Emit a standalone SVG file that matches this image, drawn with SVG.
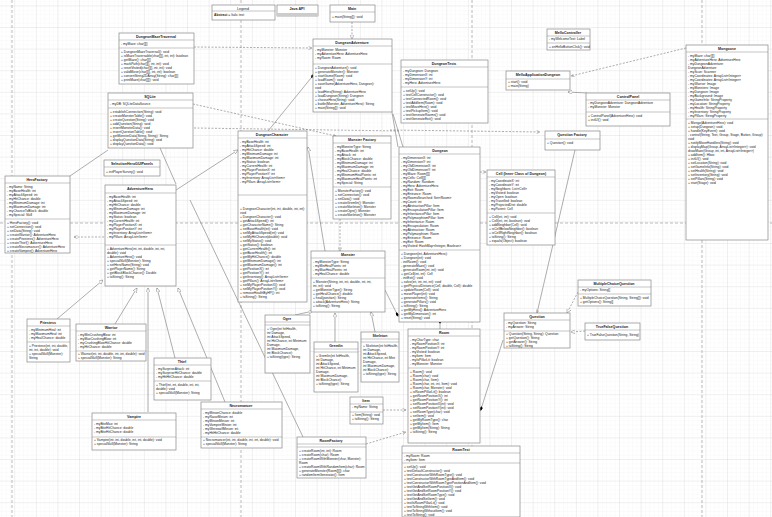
<svg xmlns="http://www.w3.org/2000/svg" width="772" height="517" viewBox="0 0 772 517">
<defs>
<pattern id="mi" width="4.32" height="4.32" patternUnits="userSpaceOnUse" x="15.2" y="6.4"><path d="M4.32 0V4.32H0" fill="none" stroke="#efefef" stroke-width="0.4"/></pattern>
<pattern id="ma" width="21.6" height="21.6" patternUnits="userSpaceOnUse" x="15.2" y="6.4"><path d="M21.6 0V21.6H0" fill="none" stroke="#d6d6d6" stroke-width="0.6"/></pattern>
<marker id="tri" viewBox="0 0 10 10" refX="10" refY="5" markerWidth="7" markerHeight="7" orient="auto"><path d="M0 0L10 5L0 10z" fill="#fff" stroke="#666"/></marker>
<marker id="open" viewBox="0 0 10 10" refX="10" refY="5" markerWidth="6" markerHeight="6" orient="auto"><path d="M0 0L10 5L0 10" fill="none" stroke="#666"/></marker>
<marker id="dia" viewBox="0 0 14 8" refX="0" refY="4" markerWidth="9" markerHeight="5" orient="auto-start-reverse"><path d="M0 4L7 0L14 4L7 8z" fill="#000"/></marker>
</defs>
<style>
.b{fill:#fff;stroke:#888;stroke-width:0.7}
.s{stroke:#888;stroke-width:0.5}
text{font-family:"Liberation Sans",Arial,sans-serif;font-size:3.3px;fill:#222}
.t{font-weight:bold;text-anchor:middle;font-size:3.6px}
.c{stroke:#777;stroke-width:0.6;fill:none}
.d{stroke:#777;stroke-width:0.6;fill:none;stroke-dasharray:2 1.5}
.pg{stroke:#aaa;stroke-width:0.8;stroke-dasharray:3 2}
</style>
<rect width="772" height="517" fill="#fff"/>
<rect width="772" height="517" fill="url(#mi)"/>
<rect width="772" height="517" fill="url(#ma)"/>
<g id="pages">
<line class="pg" x1="12" y1="0" x2="12" y2="517"/>
<line class="pg" x1="241" y1="0" x2="241" y2="517"/>
<line class="pg" x1="472" y1="0" x2="472" y2="517"/>
<line class="pg" x1="702" y1="0" x2="702" y2="517"/>
<line class="pg" x1="0" y1="223" x2="772" y2="223"/>
</g>
<g id="connectors">
<path class="d" d="M352 22V39" marker-end="url(#tri)"/>
<path class="d" d="M194 47L312 48" marker-end="url(#open)"/>
<path class="c" d="M268 131L311 78" marker-end="url(#dia)"/>
<path class="c" d="M398 147L386 78" marker-end="url(#dia)"/>
<path class="d" d="M193 104L336 136" marker-end="url(#open)"/>
<path class="d" d="M194 128L400 131"/>
<path class="d" d="M390 130L540 132" marker-end="url(#open)"/>
<path class="d" d="M686 48L571 76" marker-end="url(#open)"/>
<path class="c" d="M587 93L568 92" marker-end="url(#tri)"/>
<path class="c" d="M176 190L238 150" marker-end="url(#tri)"/>
<path class="c" d="M325 251L308 147" marker-end="url(#tri)"/>
<path class="d" d="M340 219V251" marker-end="url(#open)"/>
<path class="d" d="M104 237L74 237" marker-end="url(#open)"/>
<path class="c" d="M160 148L176 184"/>
<path class="c" d="M108 150L70 176"/>
<path class="c" d="M57 319L103 280" marker-end="url(#tri)"/>
<path class="c" d="M115 324L137 288" marker-end="url(#tri)"/>
<path class="c" d="M175 358L157 288" marker-end="url(#tri)"/>
<path class="c" d="M148 412V288" marker-end="url(#tri)"/>
<path class="c" d="M225 402L178 288" marker-end="url(#tri)"/>
<path class="c" d="M190 200L303 437"/>
<path class="c" d="M295 315L313 311" marker-end="url(#tri)"/>
<path class="c" d="M335 342V313" marker-end="url(#tri)"/>
<path class="c" d="M375 332L371 312" marker-end="url(#tri)"/>
<path class="c" d="M440 329V324" marker-end="url(#dia)"/>
<path class="d" d="M480 172L486 172" marker-end="url(#open)"/>
<path class="c" d="M385 290L396 312" marker-end="url(#dia)"/>
<path class="c" d="M503 340L482 406" marker-end="url(#dia)"/>
<path class="c" d="M575 150L537 313" marker-end="url(#open)"/>
<path class="d" d="M578 292L567 313" marker-end="url(#tri)"/>
<path class="d" d="M585 331L571 332" marker-end="url(#tri)"/>
<path class="d" d="M383 410L406 410" marker-end="url(#open)"/>
<path class="d" d="M366 444L406 432" marker-end="url(#open)"/>
<path class="c" d="M403 147L393 114"/>
</g>
<g id="legend"><rect class="b" x="212" y="5" width="63" height="15"/><text class="t" x="243" y="9.5" style="font-weight:normal">Legend</text><line class="s" x1="212" y1="11" x2="275" y2="11"/><text x="214" y="16"><tspan font-weight="bold">Abstract</tspan> = Italic text</text></g>
<g id="javaapi"><rect class="b" x="277" y="5" width="41" height="11"/><rect x="277" y="13" width="41" height="3" fill="#ccc"/><text class="t" x="297" y="10">Java API</text></g>
<g id="main"><rect class="b" x="330" y="5" width="45" height="17"/><text class="t" x="352" y="10">Main</text><line class="s" x1="330" y1="12" x2="375" y2="12"/><text x="332" y="18">+ main(String[]): void</text></g>
<g id="dungeonadventure"><rect class="b" x="313" y="39" width="79" height="73"/><text class="t" x="352" y="44">DungeonAdventure</text><line class="s" x1="313" y1="46" x2="392" y2="46"/>
<text x="315" y="51">- myMonster: Monster</text><text x="315" y="55">- myAdventureHero: AdventureHero</text><text x="315" y="59">- myRoom: Room</text><line class="s" x1="313" y1="64" x2="392" y2="64"/>
<text x="315" y="69">+ DungeonAdventure(): void</text><text x="315" y="73">+ generateMonster(): Monster</text><text x="315" y="77">+ startGame(Room): void</text><text x="315" y="81">+ loadRoom(): void</text><text x="315" y="85">+ saveGame(AdventureHero, Dungeon):</text><text x="315" y="89">void</text><text x="315" y="93">+ loadHero(String): AdventureHero</text><text x="315" y="97">+ loadDungeon(String): Dungeon</text><text x="315" y="101">+ chooseHero(String): void</text><text x="315" y="105">+ battle(Monster, AdventureHero): String</text><text x="315" y="109">+ main(String[]): void</text></g>
<g id="mazetraversal"><rect class="b" x="119" y="33" width="75" height="51"/><text class="t" x="156" y="38">DungeonMazeTraversal</text><line class="s" x1="119" y1="40" x2="194" y2="40"/><text x="121" y="45">- myMaze: char[][]</text><line class="s" x1="119" y1="48" x2="194" y2="48"/>
<text x="121" y="53">+ DungeonMazeTraversal(): void</text><text x="121" y="57">+ isMazeTraversable(char[][], int, int): boolean</text><text x="121" y="61">+ getMaze(): char[][]</text><text x="121" y="65">+ markPath(char[][], int, int): void</text><text x="121" y="69">+ resetVisited(char[][], int, int): void</text><text x="121" y="73">+ validMove(char[][], int, int): boolean</text><text x="121" y="77">+ convertString2DArray(String): char[][]</text><text x="121" y="81">+ printMaze(char[][]): void</text></g>
<g id="sqlite"><rect class="b" x="108" y="93" width="85" height="55"/><text class="t" x="150" y="98">SQLite</text><line class="s" x1="108" y1="100" x2="193" y2="100"/><text x="110" y="105">- myDB: SQLiteDataSource</text><line class="s" x1="108" y1="108" x2="193" y2="108"/>
<text x="110" y="113">+ establishConnection(String): void</text><text x="110" y="117">+ createMonsterTable(): void</text><text x="110" y="121">+ createQuestion(String): void</text><text x="110" y="125">+ addQuestion(String): void</text><text x="110" y="129">+ insertMonsterData(): void</text><text x="110" y="133">+ insertQuestionTable(): void</text><text x="110" y="137">+ getMonsterData(String, String): String</text><text x="110" y="141">+ displayQuestionData(String): void</text><text x="110" y="145">+ displayQuestionData(): void</text></g>
<g id="selectionhero"><rect class="b" x="104" y="160" width="56" height="16"/><text class="t" x="132" y="165">SelectionHeroGUIPanels</text><line class="s" x1="104" y1="167" x2="160" y2="167"/><text x="106" y="173">+ initPlayerSurvey(): void</text></g>
<g id="herofactory"><rect class="b" x="5" y="176" width="65" height="77"/><text class="t" x="37" y="181">HeroFactory</text><line class="s" x1="5" y1="183" x2="70" y2="183"/>
<text x="7" y="188">- myName: String</text><text x="7" y="192">- myBaseHealth: int</text><text x="7" y="196">- myAttackSpeed: int</text><text x="7" y="200">- myHitChance: double</text><text x="7" y="204">- myMinimumDamage: int</text><text x="7" y="208">- myMaximumDamage: int</text><text x="7" y="212">- myChanceToBlock: double</text><text x="7" y="216">- mySpecial: Skill</text><line class="s" x1="5" y1="219" x2="70" y2="219"/>
<text x="7" y="224">+ HeroFactory(): void</text><text x="7" y="228">+ setConnection(): void</text><text x="7" y="232">+ setData(String): void</text><text x="7" y="236">+ createWarrior(): AdventureHero</text><text x="7" y="240">+ createPriestess(): AdventureHero</text><text x="7" y="244">+ createThief(): AdventureHero</text><text x="7" y="248">+ createNecromancer(): AdventureHero</text><text x="7" y="252">+ createVampire(): AdventureHero</text></g>
<g id="adventurehero"><rect class="b" x="105" y="185" width="71" height="101"/><text class="t" x="140" y="190">AdventureHero</text><line class="s" x1="105" y1="193" x2="176" y2="193"/>
<text x="107" y="198">- myBaseHealth: int</text><text x="107" y="202">- myAttackSpeed: int</text><text x="107" y="206">- myHitChance: double</text><text x="107" y="210">- myMinimumDamage: int</text><text x="107" y="214">- myMaximumDamage: int</text><text x="107" y="218">- myStatus: boolean</text><text x="107" y="222">- myCurrentHealth: int</text><text x="107" y="226">- myPlayerPositionX: int</text><text x="107" y="230">- myPlayerPositionY: int</text><text x="107" y="234">- myInventory: ArrayList&lt;Item&gt;</text><text x="107" y="238">- myPillars: ArrayList&lt;Item&gt;</text><line class="s" x1="105" y1="245" x2="176" y2="245"/>
<text x="107" y="250">+ AdventureHero(int, int, double, int, int,</text><text x="107" y="254">double): void</text><text x="107" y="258">+ AdventureHero(): void</text><text x="107" y="262">+ specialSkill(Monster): String</text><text x="107" y="266">+ setHeroName(String): void</text><text x="107" y="270">+ getPlayerName(): String</text><text x="107" y="274">+ getBlockBlockChance(): Double</text><text x="107" y="278">+ toString(): String</text></g>
<g id="dungeoncharacter"><rect class="b" x="238" y="131" width="69" height="171"/><text class="t" x="272" y="136">DungeonCharacter</text><line class="s" x1="238" y1="138" x2="307" y2="138"/>
<text x="240" y="143">- myBaseHealth: int</text><text x="240" y="147">- myAttackSpeed: int</text><text x="240" y="151">- myHitChance: double</text><text x="240" y="155">- myMinimumDamage: int</text><text x="240" y="159">- myMaximumDamage: int</text><text x="240" y="163">- myStatus: boolean</text><text x="240" y="167">- myCurrentHealth: int</text><text x="240" y="171">- myPlayerPositionX: int</text><text x="240" y="175">- myPlayerPositionY: int</text><text x="240" y="179">- myInventory: ArrayList&lt;Item&gt;</text><text x="240" y="183">- myPillars: ArrayList&lt;Item&gt;</text><line class="s" x1="238" y1="195" x2="307" y2="195"/>
<text x="240" y="210">+ DungeonCharacter(int, int, double, int, int):</text><text x="240" y="214">void</text><text x="240" y="218">+ DungeonCharacter(): void</text><text x="240" y="222">+ getAttackSpeed(): int</text><text x="240" y="226">+ getCharacterName(): String</text><text x="240" y="230">+ setBaseHealth(int): void</text><text x="240" y="234">+ setMyAttackSpeed(int): void</text><text x="240" y="238">+ setMyHitChance(double): void</text><text x="240" y="242">+ setMyStatus(): void</text><text x="240" y="246">+ getStatus(): boolean</text><text x="240" y="250">+ getCurrentHealth(): int</text><text x="240" y="254">+ getBaseHealth(): int</text><text x="240" y="258">+ getMyHitChance(): double</text><text x="240" y="262">+ getMinimumDamage(): int</text><text x="240" y="266">+ getMaximumDamage(): int</text><text x="240" y="270">+ getPositionX(): int</text><text x="240" y="274">+ getPositionY(): int</text><text x="240" y="278">+ getInventory(): ArrayList&lt;Item&gt;</text><text x="240" y="282">+ getPillars(): ArrayList&lt;Item&gt;</text><text x="240" y="286">+ setMyPlayerPositionX(): void</text><text x="240" y="290">+ setMyPlayerPositionY(): void</text><text x="240" y="294">+ removeHealthByHP(): int</text><text x="240" y="298">+ toString(): String</text></g>
<g id="monsterfactory"><rect class="b" x="333" y="136" width="58" height="83"/><text class="t" x="362" y="141">Monster Factory</text><line class="s" x1="333" y1="143" x2="391" y2="143"/>
<text x="335" y="148">- myMonsterType: String</text><text x="335" y="152">- myBaseHealth: int</text><text x="335" y="156">- myAttack: int</text><text x="335" y="160">- myBlockChance: double</text><text x="335" y="164">- myMinimumDamage: int</text><text x="335" y="168">- myMaximumDamage: int</text><text x="335" y="172">- myHealChance: double</text><text x="335" y="176">- myMinimumHealPoints: int</text><text x="335" y="180">- myMaximumHealPoints: int</text><text x="335" y="184">- mySpecial: String</text><line class="s" x1="333" y1="187" x2="391" y2="187"/>
<text x="335" y="192">+ MonsterFactory(): void</text><text x="335" y="196">+ setConnection(): void</text><text x="335" y="200">+ setData(): void</text><text x="335" y="204">+ createGremlin(): Monster</text><text x="335" y="208">+ createSkeleton(): Monster</text><text x="335" y="212">+ createOgre(): Monster</text><text x="335" y="216">+ createSkeleton(): Monster</text></g>
<g id="dungeontests"><rect class="b" x="401" y="60" width="87" height="63"/><text class="t" x="444" y="65">DungeonTests</text><line class="s" x1="401" y1="67" x2="488" y2="67"/>
<text x="403" y="72">- myDungeon: Dungeon</text><text x="403" y="76">- myDimensionX: int</text><text x="403" y="80">- myDimensionY: int</text><text x="403" y="84">- myHero: AdventureHero</text><line class="s" x1="401" y1="87" x2="488" y2="87"/>
<text x="403" y="92">+ setUp(): void</text><text x="403" y="96">+ testCellConstructor(): void</text><text x="403" y="100">+ testConnectedRoom(): void</text><text x="403" y="104">+ testAddItem(Room): void</text><text x="403" y="108">+ testMoveHero(): void</text><text x="403" y="112">+ testPickupItem(): void</text><text x="403" y="116">+ testGenerateRooms(): void</text><text x="403" y="120">+ testGenerateExit(): void</text></g>
<g id="dungeon"><rect class="b" x="399" y="147" width="81" height="175"/><text class="t" x="440" y="152">Dungeon</text><line class="s" x1="399" y1="154" x2="480" y2="154"/>
<text x="401" y="159">- myDimensionX: int</text><text x="401" y="163">- myDimensionY: int</text><text x="401" y="167">- myOldDimensionX: int</text><text x="401" y="171">- myOldDimensionY: int</text><text x="401" y="175">- myMaze: Room[][]</text><text x="401" y="179">- myCells: Cell[][]</text><text x="401" y="183">- myRandom: Random</text><text x="401" y="187">- myHero: AdventureHero</text><text x="401" y="191">- myExit: Room</text><text x="401" y="195">- myEntrance: Room</text><text x="401" y="199">- myRoomsSearched: Set&lt;Room&gt;</text><text x="401" y="203">- myCount: int</text><text x="401" y="207">- myAbstractionPillar: Item</text><text x="401" y="211">- myEncapsulationPillar: Item</text><text x="401" y="215">- myInheritancePillar: Item</text><text x="401" y="219">- myPolymorphismPillar: Item</text><text x="401" y="223">- myInheritance: Room</text><text x="401" y="227">- myEncapsulation: Room</text><text x="401" y="231">- myAbstraction: Room</text><text x="401" y="235">- myPolymorphism: Room</text><text x="401" y="239">- myEntrance: Room</text><text x="401" y="243">- myExit: Room</text><text x="401" y="247">- myVisited: HashMap&lt;Integer, Boolean&gt;</text><line class="s" x1="399" y1="250" x2="480" y2="250"/>
<text x="401" y="255">+ Dungeon(int, AdventureHero):</text><text x="401" y="259">+ Dungeon(int): void</text><text x="401" y="263">- initRoom(): void</text><text x="401" y="267">- generateMaze(): void</text><text x="401" y="271">- generateRoom(int, int): void</text><text x="401" y="275">+ getCell(int, int): Cell</text><text x="401" y="279">- initExit(): void</text><text x="401" y="283">+ solve(int, int, int, int): void</text><text x="401" y="287">+ getPhysicalDistance(Cell, double, Cell): double</text><text x="401" y="291">+ updateRoom(Cell): void</text><text x="401" y="295">+ movePlayer(int): void</text><text x="401" y="299">+ generateItems(): String</text><text x="401" y="303">+ generatePillars(): void</text><text x="401" y="307">+ toString(): String</text><text x="401" y="311">+ getMyHero(): AdventureHero</text><text x="401" y="315">+ getMyDimension(): int</text><text x="401" y="319">+ reset(String): void</text></g>
<g id="cell"><rect class="b" x="487" y="170" width="68" height="75"/><text class="t" x="521" y="175">Cell (Inner Class of Dungeon)</text><line class="s" x1="487" y1="177" x2="555" y2="177"/>
<text x="489" y="182">- myCoordinateX: int</text><text x="489" y="186">- myCoordinateY: int</text><text x="489" y="190">- myNeighbors: List&lt;Cell&gt;</text><text x="489" y="194">- myVisited: boolean</text><text x="489" y="198">- myOpen: boolean</text><text x="489" y="202">- myTravelled: boolean</text><text x="489" y="206">- myProjectedDist: double</text><text x="489" y="210">- myParent: Cell</text><line class="s" x1="487" y1="213" x2="555" y2="213"/>
<text x="489" y="218">+ Cell(int, int): void</text><text x="489" y="222">+ Cell(int, int, boolean): void</text><text x="489" y="226">+ addNeighbor(Cell): void</text><text x="489" y="230">+ isCellBelowNeighbor(): boolean</text><text x="489" y="234">+ isCellRightNeighbor(): boolean</text><text x="489" y="238">+ toString(): String</text><text x="489" y="242">+ equals(Object): boolean</text></g>
<g id="mellocontroller"><rect class="b" x="547" y="29" width="43" height="21"/><text class="t" x="568" y="34">MelloController</text><line class="s" x1="547" y1="36" x2="590" y2="36"/><text x="549" y="40">- myWelcomeText: Label</text><line class="s" x1="547" y1="43" x2="590" y2="43"/><text x="549" y="48">+ onHelloButtonClick(): void</text></g>
<g id="melloapp"><rect class="b" x="506" y="71" width="64" height="19"/><text class="t" x="538" y="76">MelloApplicationDungeon</text><line class="s" x1="506" y1="79" x2="570" y2="79"/><text x="508" y="83">+ start(): void</text><text x="508" y="87">+ main(String)</text></g>
<g id="controlpanel"><rect class="b" x="586" y="93" width="84" height="33"/><text class="t" x="628" y="98">ControlPanel</text><line class="s" x1="586" y1="100" x2="670" y2="100"/><text x="588" y="104">- myDungeonAdventure: DungeonAdventure</text><text x="588" y="108">- myMonster: Monster</text><line class="s" x1="586" y1="112" x2="670" y2="112"/><text x="588" y="117">+ ControlPanel(AdventureHero): void</text><text x="588" y="121">+ initUI(): void</text></g>
<g id="questionfactory"><rect class="b" x="545" y="131" width="55" height="19"/><text class="t" x="572" y="136">Question Factory</text><line class="s" x1="545" y1="139" x2="600" y2="139"/><text x="547" y="144">+ Question(): void</text></g>
<g id="maingame"><rect class="b" x="686" y="45" width="82" height="195"/><text class="t" x="727" y="50">Mongoose</text><line class="s" x1="686" y1="52" x2="768" y2="52"/>
<text x="688" y="57">- myMaze: char[][]</text><text x="688" y="61">- myAdventureHero: AdventureHero</text><text x="688" y="65">- myDungeonAdventure:</text><text x="688" y="69">DungeonAdventure</text><text x="688" y="73">- myScan: Scanner</text><text x="688" y="77">- myCoordinates: ArrayList&lt;Integer&gt;</text><text x="688" y="81">- myCoordinates: ArrayList&lt;Integer&gt;</text><text x="688" y="85">- myWarrior: Image</text><text x="688" y="89">- myMonsters: Image</text><text x="688" y="93">- myDungeon: Image</text><text x="688" y="97">- myBackground: Image</text><text x="688" y="101">- myGameInfo: StringProperty</text><text x="688" y="105">- myLocation: StringProperty</text><text x="688" y="109">- myHealth: StringProperty</text><text x="688" y="113">- myInventory: StringProperty</text><text x="688" y="117">- myPillars: StringProperty</text><line class="s" x1="686" y1="119" x2="768" y2="119"/>
<text x="688" y="124">+ Mongo(AdventureHero): void</text><text x="688" y="128">+ setup(Dungeon): void</text><text x="688" y="132">+ handle(KeyEvent): void</text><text x="688" y="136">- control(String, Text, Group, Stage, Button, Group):</text><text x="688" y="140">void</text><text x="688" y="144">+ notifyMoveHandlers(String): void</text><text x="688" y="148">+ displayMap(Group, ArrayList&lt;Integer&gt;): void</text><text x="688" y="152">  drawMaze(Group, int, int, ArrayList&lt;Integer&gt;)</text><text x="688" y="156">+ addItem(): Hbox</text><text x="688" y="160">+ initUI(): void</text><text x="688" y="164">+ setLocation(String): void</text><text x="688" y="168">+ setGameInfo(String): void</text><text x="688" y="172">+ setHealth(String): void</text><text x="688" y="176">+ setInventory(String): void</text><text x="688" y="180">+ setPillars(String): void</text><text x="688" y="184">+ start(Stage): void</text></g>
<g id="monster"><rect class="b" x="311" y="251" width="74" height="61"/><text class="t" x="348" y="256">Monster</text><line class="s" x1="311" y1="258" x2="385" y2="258"/>
<text x="313" y="263">- myMonsterType: String</text><text x="313" y="267">- myMinHealPoints: int</text><text x="313" y="271">- myMaxHealPoints: int</text><text x="313" y="275">- myHealChance: double</text><line class="s" x1="311" y1="278" x2="385" y2="278"/>
<text x="313" y="283">+ Monster(String, int, int, double, int, int,</text><text x="313" y="287">int, int): void</text><text x="313" y="291">+ getMonsterType(): String</text><text x="313" y="295">+ getHealChance(): double</text><text x="313" y="299">+ heal(position): String</text><text x="313" y="303">+ attack(AdventureHero): String</text><text x="313" y="307">+ toString(): String</text></g>
<g id="priestess"><rect class="b" x="27" y="319" width="43" height="43"/><text class="t" x="48" y="324">Priestess</text><line class="s" x1="27" y1="326" x2="70" y2="326"/><text x="29" y="331">- myMinimumHeal: int</text><text x="29" y="335">- myMaximumHeal: int</text><text x="29" y="339">- myHealChance: double</text><line class="s" x1="27" y1="342" x2="70" y2="342"/><text x="29" y="347">+ Priestess(int, int, double,</text><text x="29" y="351">int, int, double): void</text><text x="29" y="355">+ specialSkill(Monster):</text><text x="29" y="359">String</text></g>
<g id="warrior"><rect class="b" x="76" y="324" width="70" height="37"/><text class="t" x="111" y="329">Warrior</text><line class="s" x1="76" y1="331" x2="146" y2="331"/><text x="78" y="336">- myMinCrushingBlow: int</text><text x="78" y="340">- myMaxCrushingBlow: int</text><text x="78" y="344">- myCrushingBlowHitChance: double</text><text x="78" y="348">- myHitChance: double</text><line class="s" x1="76" y1="351" x2="146" y2="351"/><text x="78" y="355">+ Warrior(int, int, double, int, int, double): void</text><text x="78" y="359">+ specialSkill(Monster): String</text></g>
<g id="thief"><rect class="b" x="154" y="358" width="57" height="42"/><text class="t" x="182" y="363">Thief</text><line class="s" x1="154" y1="365" x2="211" y2="365"/><text x="156" y="370">- mySurpriseAttack: int</text><text x="156" y="374">- mySurpriseHitChance: double</text><text x="156" y="378">- myHitHitChance: double</text><line class="s" x1="154" y1="381" x2="211" y2="381"/><text x="156" y="386">+ Thief(int, int, double, int, int,</text><text x="156" y="390">double): void</text><text x="156" y="394">+ specialSkill(Monster): String</text></g>
<g id="vampire"><rect class="b" x="92" y="413" width="84" height="37"/><text class="t" x="134" y="418">Vampire</text><line class="s" x1="92" y1="420" x2="176" y2="420"/><text x="94" y="425">- myBiteMax: int</text><text x="94" y="429">- myBiteHitChance: double</text><text x="94" y="433">- myBiteHitChance: double</text><line class="s" x1="92" y1="437" x2="176" y2="437"/><text x="94" y="441">+ Vampire(int, int, double, int, int, double): void</text><text x="94" y="445">+ specialSkill(Monster): String</text></g>
<g id="necromancer"><rect class="b" x="201" y="402" width="81" height="46"/><text class="t" x="241" y="407">Necromancer</text><line class="s" x1="201" y1="409" x2="282" y2="409"/><text x="203" y="414">- myMinionChance: double</text><text x="203" y="418">- myRaiseMinion: int</text><text x="203" y="422">- myMinionMinion: int</text><text x="203" y="426">- myVampireMinion: int</text><text x="203" y="430">- myWerewolfMinion: int</text><text x="203" y="434">- myHitHitChance: double</text><line class="s" x1="201" y1="437" x2="282" y2="437"/><text x="203" y="441">+ Necromancer(int, int, double, int, int, double): void</text><text x="203" y="445">+ specialSkill(Monster): String</text></g>
<g id="ogre"><rect class="b" x="265" y="315" width="45" height="58"/><text class="t" x="287" y="320">Ogre</text><line class="s" x1="265" y1="322" x2="310" y2="322"/><line class="s" x1="265" y1="325" x2="310" y2="325"/><text x="267" y="330">+ Ogre(int hitHealth,</text><text x="267" y="334">int Damage,</text><text x="267" y="338">int AttackSpeed,</text><text x="267" y="342">int HitChance, int Minimum</text><text x="267" y="346">Damage,</text><text x="267" y="350">int MaximumDamage,</text><text x="267" y="354">int BlockChance):</text><text x="267" y="358">+ toString(type): String</text></g>
<g id="gremlin"><rect class="b" x="314" y="342" width="44" height="50"/><text class="t" x="336" y="347">Gremlin</text><line class="s" x1="314" y1="349" x2="358" y2="349"/><line class="s" x1="314" y1="352" x2="358" y2="352"/><text x="316" y="357">+ Gremlin(int hitHealth,</text><text x="316" y="361">int Damage,</text><text x="316" y="365">int AttackSpeed,</text><text x="316" y="369">int HitChance, int Minimum</text><text x="316" y="373">Damage,</text><text x="316" y="377">int MaximumDamage,</text><text x="316" y="381">int BlockChance):</text><text x="316" y="385">+ toString(type): String</text></g>
<g id="skeleton"><rect class="b" x="361" y="332" width="38" height="50"/><text class="t" x="380" y="337">Skeleton</text><line class="s" x1="361" y1="339" x2="399" y2="339"/><line class="s" x1="361" y1="342" x2="399" y2="342"/><text x="363" y="347">+ Skeleton(int hitHealth,</text><text x="363" y="351">int Damage,</text><text x="363" y="355">int AttackSpeed,</text><text x="363" y="359">int HitChance, int Mini</text><text x="363" y="363">Damage,</text><text x="363" y="367">int MaximumDamage,</text><text x="363" y="371">int BlockChance):</text><text x="363" y="375">+ toString(type): String</text></g>
<g id="item"><rect class="b" x="350" y="397" width="33" height="27"/><text class="t" x="366" y="402">Item</text><line class="s" x1="350" y1="404" x2="383" y2="404"/><text x="352" y="408">- myName: String</text><line class="s" x1="350" y1="412" x2="383" y2="412"/><text x="352" y="416">+ Item(String): void</text><text x="352" y="420">+ toString(): String</text></g>
<g id="roomfactory"><rect class="b" x="297" y="437" width="69" height="41"/><text class="t" x="331" y="442">RoomFactory</text><line class="s" x1="297" y1="444" x2="366" y2="444"/><line class="s" x1="297" y1="447" x2="366" y2="447"/><text x="299" y="452">+ createRoom(int, int): Room</text><text x="299" y="456">+ createRoom(char): Room</text><text x="299" y="460">+ createRoomWithMonster(char, Monster):</text><text x="299" y="464">Room</text><text x="299" y="468">+ createRoomWithRandomItem(char): Room</text><text x="299" y="472">+ generateMonster(Room[][]): char</text><text x="299" y="476">+ randomItemGenerator(): Item</text></g>
<g id="room"><rect class="b" x="408" y="329" width="72" height="114"/><text class="t" x="444" y="334">Room</text><line class="s" x1="408" y1="336" x2="480" y2="336"/>
<text x="410" y="341">- myCharType: char</text><text x="410" y="345">- myRoomPositionX: int</text><text x="410" y="349">- myRoomPositionY: int</text><text x="410" y="353">- myVisited: boolean</text><text x="410" y="357">- myItem: Item</text><text x="410" y="361">- myIsPillarLit: boolean</text><text x="410" y="365">- myMonster: Monster</text><line class="s" x1="408" y1="368" x2="480" y2="368"/>
<text x="410" y="373">+ Room(): void</text><text x="410" y="377">+ Room(char): void</text><text x="410" y="381">+ Room(char, Item):</text><text x="410" y="385">+ Room(char, int, int, Item): void</text><text x="410" y="389">+ Room(char, Monster): void</text><text x="410" y="393">+ isRoomPillarLit(): boolean</text><text x="410" y="397">+ getRoomPositionX(): int</text><text x="410" y="401">+ getRoomPositionY(): int</text><text x="410" y="405">+ setRoomPositionX(int): void</text><text x="410" y="409">+ setRoomPositionY(int): void</text><text x="410" y="413">+ setRoomType(char): void</text><text x="410" y="417">+ setItem(): void</text><text x="410" y="421">+ getMyRoomType(): char</text><text x="410" y="425">+ getMyItem(): Item</text><text x="410" y="429">+ getMyItem(String): String</text><text x="410" y="433">+ toString(): String</text></g>
<g id="roomtest"><rect class="b" x="402" y="446" width="118" height="71"/><text class="t" x="461" y="451">RoomTest</text><line class="s" x1="402" y1="453" x2="520" y2="453"/><text x="404" y="457">- myRoom: Room</text><text x="404" y="461">- myItem: Item</text><line class="s" x1="402" y1="463" x2="520" y2="463"/>
<text x="404" y="468">+ setUp(): void</text><text x="404" y="472">+ testDefaultConstructor(): void</text><text x="404" y="476">+ testConstructorWithRoomType(): void</text><text x="404" y="480">+ testConstructorWithRoomTypeAndItem(): void</text><text x="404" y="484">+ testConstructorWithRoomTypePositionAndItem(): void</text><text x="404" y="488">+ testGetAndSetRoomPositionX(): void</text><text x="404" y="492">+ testGetAndSetRoomPositionY(): void</text><text x="404" y="496">+ testGetAndSetRoomType(): void</text><text x="404" y="500">+ testGetAndSetItem(): void</text><text x="404" y="504">+ testIsRoomPillarLit(): void</text><text x="404" y="508">+ testToStringWithItem(): void</text><text x="404" y="512">+ testToStringWithoutItem(): void</text><text x="404" y="516">+ testToString(): void</text></g>
<g id="question"><rect class="b" x="504" y="313" width="66" height="35"/><text class="t" x="537" y="318">Question</text><line class="s" x1="504" y1="320" x2="570" y2="320"/><text x="506" y="324">- myQuestion: String</text><text x="506" y="328">- myAnswer: String</text><line class="s" x1="504" y1="331" x2="570" y2="331"/><text x="506" y="335">+ Question(String, String): Question</text><text x="506" y="339">+ getQuestion(): String</text><text x="506" y="343">+ getAnswer(): String</text><text x="506" y="347">+ toString(): String</text></g>
<g id="multiplechoice"><rect class="b" x="578" y="280" width="73" height="26"/><text class="t" x="614" y="285">MultipleChoiceQuestion</text><line class="s" x1="578" y1="287" x2="651" y2="287"/><text x="580" y="291">- myOptions: String[]</text><line class="s" x1="578" y1="294" x2="651" y2="294"/><text x="580" y="299">+ MultipleChoiceQuestion(String, String[]): void</text><text x="580" y="303">+ getOptions(): String[]</text></g>
<g id="truefalse"><rect class="b" x="585" y="323" width="55" height="17"/><text class="t" x="612" y="328">TrueFalseQuestion</text><line class="s" x1="585" y1="330" x2="640" y2="330"/><text x="587" y="336">+ TrueFalseQuestion(String, String)</text></g>
</svg>
